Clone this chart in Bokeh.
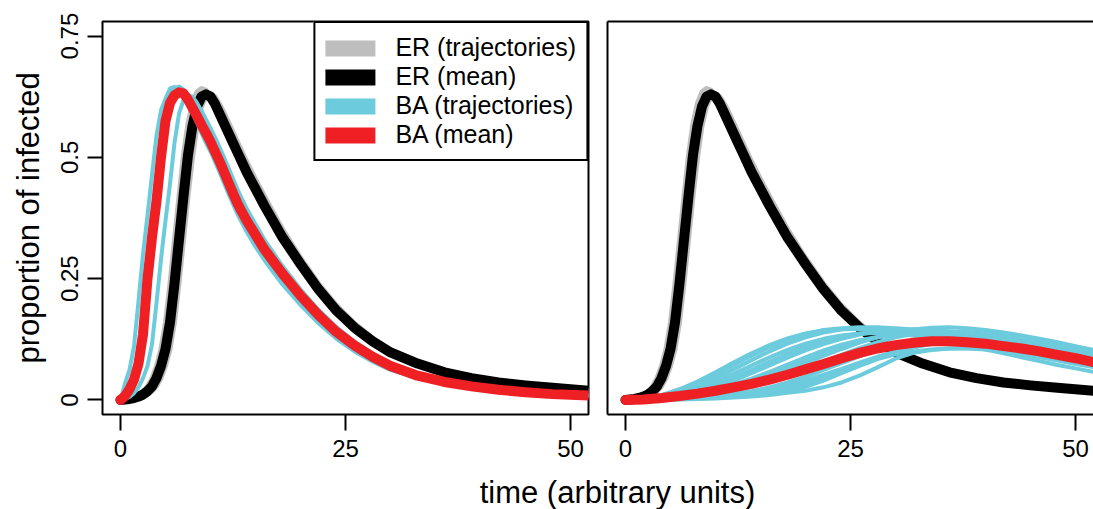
from bokeh.plotting import figure
from bokeh.models import FixedTicker, LinearAxis, Legend, LegendItem, Label, Range1d
from bokeh.layouts import row, column
from bokeh.embed import file_html
from bokeh.resources import INLINE

# ---------------- data ----------------
T_L = [0, 0.5, 1, 1.5, 2, 2.5, 3, 3.5, 4, 4.5, 5, 5.5, 6, 6.5, 7, 7.5, 8, 8.5, 9, 9.5,
       10, 10.5, 11, 11.5, 12, 12.5, 13, 13.5, 14, 15, 16, 18, 20, 22, 24, 26, 28, 30,
       33, 36, 39, 42, 45, 48, 52]

ER_MEAN = [0, 0.001, 0.002, 0.004, 0.007, 0.011, 0.018, 0.028, 0.045, 0.07,
           0.105, 0.16, 0.24, 0.33, 0.42, 0.505, 0.565, 0.605, 0.625, 0.63,
           0.625, 0.61, 0.59, 0.57, 0.55, 0.53, 0.51, 0.49, 0.47, 0.435, 0.40,
           0.335, 0.28, 0.228, 0.184, 0.149, 0.121, 0.098,
           0.075, 0.057, 0.045, 0.036, 0.030, 0.025, 0.019]

ER_TRAJ_A = [0, 0.002, 0.004, 0.007, 0.011, 0.018, 0.028, 0.045, 0.07, 0.105,
             0.16, 0.24, 0.33, 0.42, 0.505, 0.57, 0.612, 0.635, 0.642, 0.638,
             0.626, 0.61, 0.592, 0.572, 0.552, 0.532, 0.512, 0.492, 0.472, 0.436, 0.40,
             0.334, 0.277, 0.224, 0.18, 0.145, 0.117, 0.095,
             0.072, 0.055, 0.043, 0.034, 0.028, 0.023, 0.018]
ER_TRAJ_B = [0, 0.0, 0.001, 0.002, 0.004, 0.007, 0.011, 0.018, 0.028, 0.045,
             0.07, 0.105, 0.16, 0.24, 0.33, 0.42, 0.50, 0.565, 0.605, 0.625,
             0.632, 0.625, 0.61, 0.592, 0.572, 0.552, 0.532, 0.512, 0.492, 0.455, 0.42,
             0.352, 0.293, 0.24, 0.195, 0.158, 0.128, 0.104,
             0.08, 0.06, 0.047, 0.038, 0.031, 0.026, 0.02]

BA_MEAN_L = [0, 0.008, 0.022, 0.042, 0.075, 0.135, 0.25, 0.335, 0.41, 0.50,
             0.575, 0.612, 0.628, 0.634, 0.632, 0.619, 0.602, 0.585, 0.567, 0.55,
             0.532, 0.512, 0.492, 0.47, 0.448, 0.426, 0.405, 0.387, 0.37, 0.34, 0.31,
             0.26, 0.215, 0.175, 0.14, 0.112, 0.089, 0.07,
             0.05, 0.037, 0.028, 0.021, 0.016, 0.012, 0.009]

BA_TRAJ_L_A = [0, 0.034, 0.062, 0.111, 0.204, 0.301, 0.38, 0.464, 0.545, 0.597,
               0.621, 0.642, 0.645, 0.64, 0.628, 0.612, 0.592, 0.572, 0.55, 0.53,
               0.512, 0.491, 0.47, 0.447, 0.425, 0.404, 0.383, 0.365, 0.347, 0.316, 0.288,
               0.238, 0.196, 0.158, 0.126, 0.1, 0.079, 0.062,
               0.045, 0.033, 0.025, 0.019, 0.014, 0.011, 0.008]
BA_TRAJ_L_B = [0, 0.002, 0.006, 0.014, 0.026, 0.045, 0.07, 0.115, 0.2, 0.29,
               0.37, 0.445, 0.53, 0.59, 0.618, 0.628, 0.625, 0.612, 0.596, 0.578,
               0.56, 0.541, 0.521, 0.5, 0.478, 0.456, 0.434, 0.414, 0.395, 0.362, 0.33,
               0.276, 0.228, 0.186, 0.15, 0.12, 0.096, 0.075,
               0.054, 0.04, 0.03, 0.022, 0.017, 0.013, 0.01]
BA_TRAJ_L_C = [0, 0.012, 0.03, 0.055, 0.1, 0.185, 0.295, 0.375, 0.455, 0.54,
               0.6, 0.63, 0.642, 0.646, 0.64, 0.624, 0.604, 0.585, 0.566, 0.548,
               0.529, 0.509, 0.488, 0.466, 0.444, 0.422, 0.401, 0.383, 0.366, 0.335, 0.305,
               0.255, 0.21, 0.171, 0.137, 0.109, 0.087, 0.068,
               0.049, 0.036, 0.027, 0.02, 0.015, 0.011, 0.008]

T_R = [0, 2, 4, 6, 8, 10, 12, 14, 16, 18, 20, 22, 24, 26, 28, 30, 32, 34, 36, 38,
       40, 42, 44, 46, 48, 50, 52]

BA_MEAN_R = [0, 0.001, 0.004, 0.008, 0.013, 0.019, 0.026, 0.033, 0.042, 0.052,
             0.063, 0.074, 0.086, 0.097, 0.106, 0.113, 0.118, 0.121, 0.121, 0.119,
             0.116, 0.111, 0.106, 0.100, 0.093, 0.086, 0.078]

BA_TRAJ_R_1 = [0, 0.003, 0.010, 0.022, 0.038, 0.057, 0.077, 0.096, 0.113, 0.127,
               0.137, 0.143, 0.146, 0.146, 0.144, 0.140, 0.134, 0.127, 0.120, 0.112,
               0.104, 0.096, 0.088, 0.080, 0.072, 0.065, 0.058]
BA_TRAJ_R_2 = [0, 0.002, 0.007, 0.016, 0.029, 0.045, 0.063, 0.082, 0.100, 0.116,
               0.129, 0.139, 0.145, 0.148, 0.148, 0.146, 0.142, 0.137, 0.131, 0.124,
               0.117, 0.110, 0.102, 0.095, 0.088, 0.081, 0.074]
BA_TRAJ_R_3 = [0, 0.002, 0.005, 0.011, 0.020, 0.032, 0.046, 0.062, 0.079, 0.095,
               0.109, 0.121, 0.131, 0.137, 0.140, 0.141, 0.140, 0.137, 0.133, 0.128,
               0.122, 0.116, 0.110, 0.103, 0.097, 0.090, 0.084]
BA_TRAJ_R_4 = [0, 0.001, 0.004, 0.008, 0.014, 0.022, 0.032, 0.044, 0.058, 0.073,
               0.088, 0.102, 0.114, 0.123, 0.130, 0.134, 0.136, 0.135, 0.133, 0.130,
               0.126, 0.121, 0.116, 0.111, 0.105, 0.099, 0.093]
BA_TRAJ_R_5 = [0, 0.001, 0.003, 0.006, 0.011, 0.017, 0.025, 0.035, 0.047, 0.061,
               0.076, 0.091, 0.105, 0.118, 0.129, 0.138, 0.145, 0.149, 0.150, 0.148,
               0.144, 0.139, 0.133, 0.126, 0.119, 0.111, 0.103]
BA_TRAJ_R_6 = [0, 0.001, 0.003, 0.005, 0.009, 0.014, 0.020, 0.028, 0.037, 0.048,
               0.060, 0.073, 0.086, 0.098, 0.108, 0.116, 0.122, 0.125, 0.125, 0.123,
               0.120, 0.116, 0.111, 0.105, 0.099, 0.093, 0.087]
BA_TRAJ_R_7 = [0, 0.001, 0.002, 0.003, 0.005, 0.008, 0.012, 0.017, 0.023, 0.031,
               0.041, 0.052, 0.064, 0.077, 0.089, 0.100, 0.109, 0.115, 0.119, 0.120,
               0.119, 0.116, 0.112, 0.107, 0.101, 0.095, 0.089]
BA_TRAJ_R_8 = [0, 0.000, 0.001, 0.002, 0.003, 0.005, 0.007, 0.010, 0.014, 0.019,
               0.027, 0.040, 0.055, 0.070, 0.084, 0.094, 0.100, 0.104, 0.106, 0.106,
               0.104, 0.101, 0.097, 0.092, 0.087, 0.082, 0.077]
BA_TRAJ_R_9 = [0, 0.001, 0.003, 0.007, 0.012, 0.019, 0.028, 0.039, 0.052, 0.066,
               0.081, 0.096, 0.109, 0.120, 0.129, 0.135, 0.139, 0.140, 0.139, 0.136,
               0.132, 0.127, 0.121, 0.115, 0.109, 0.102, 0.096]
BA_TRAJ_R_10 = [0, 0.000, 0.001, 0.003, 0.005, 0.008, 0.012, 0.018, 0.026, 0.036,
                0.048, 0.062, 0.076, 0.090, 0.103, 0.114, 0.122, 0.127, 0.130, 0.131,
                0.130, 0.127, 0.123, 0.118, 0.112, 0.106, 0.100]
BA_TRAJ_R_11 = [0, 0.000, 0.001, 0.001, 0.002, 0.003, 0.005, 0.007, 0.010, 0.015,
                0.019, 0.026, 0.036, 0.050, 0.067, 0.085, 0.097, 0.103, 0.106, 0.107,
                0.106, 0.103, 0.100, 0.096, 0.091, 0.086, 0.081]
BA_TRAJ_R_12 = [0, 0.002, 0.008, 0.019, 0.034, 0.052, 0.072, 0.091, 0.109, 0.124,
                0.136, 0.144, 0.148, 0.150, 0.150, 0.148, 0.145, 0.140, 0.135, 0.129,
                0.123, 0.116, 0.109, 0.102, 0.095, 0.088, 0.082]
BA_TRAJ_R_13 = [0, 0.001, 0.004, 0.009, 0.017, 0.027, 0.040, 0.055, 0.071, 0.087,
                0.102, 0.115, 0.126, 0.135, 0.141, 0.144, 0.145, 0.144, 0.141, 0.137,
                0.132, 0.126, 0.120, 0.113, 0.106, 0.099, 0.092]
BA_TRAJ_R_14 = [0, 0.001, 0.002, 0.004, 0.008, 0.013, 0.019, 0.027, 0.037, 0.049,
                0.063, 0.078, 0.093, 0.107, 0.119, 0.129, 0.136, 0.140, 0.141, 0.140,
                0.137, 0.133, 0.128, 0.122, 0.116, 0.109, 0.102]
BA_TRAJ_R_15 = [0, 0.002, 0.006, 0.013, 0.024, 0.038, 0.054, 0.071, 0.088, 0.103,
                0.116, 0.126, 0.133, 0.137, 0.138, 0.136, 0.133, 0.128, 0.122, 0.116,
                0.109, 0.102, 0.095, 0.088, 0.081, 0.074, 0.068]
BA_TRAJ_R_16 = [0, 0.000, 0.001, 0.002, 0.004, 0.006, 0.009, 0.013, 0.018, 0.025,
                0.034, 0.045, 0.058, 0.072, 0.086, 0.098, 0.108, 0.116, 0.121, 0.124,
                0.124, 0.122, 0.119, 0.115, 0.110, 0.105, 0.099]

X_TICKS = [0, 25, 50]
Y_TICKS = [0, 0.25, 0.5, 0.75]
Y_TICK_LABELS = ["0", "0.25", "0.5", "0.75"]
LEGEND_LABELS = ["ER (trajectories)", "ER (mean)", "BA (trajectories)", "BA (mean)"]
X_TITLE = "time (arbitrary units)"
Y_TITLE = "proportion of infected"

# ---------------- style ----------------
GRAY = "#BEBEBE"
BLACK = "#000000"
CYAN = "#6CCBDC"
RED = "#EE2024"
FONT = "Liberation Sans"
NAN = float("nan")


def base_fig(width, left, right):
    p = figure(width=width, height=469, x_range=Range1d(-2, 52), y_range=Range1d(-0.03, 0.78),
               output_backend="svg", toolbar_location=None,
               min_border_left=left, min_border_right=right, min_border_top=21, min_border_bottom=55)
    p.xgrid.visible = False
    p.ygrid.visible = False
    p.background_fill_color = "white"
    p.border_fill_color = "white"
    xa = p.xaxis[0]
    xa.ticker = FixedTicker(ticks=X_TICKS)
    xa.major_tick_out = 16
    xa.major_tick_in = 0
    xa.minor_tick_line_color = None
    xa.major_tick_line_width = 2
    xa.major_tick_line_color = BLACK
    xa.major_label_text_font = FONT
    xa.major_label_text_font_size = "24px"
    xa.major_label_text_color = BLACK
    xa.major_label_standoff = 9
    return p


def line(p, x, y, color, w):
    return p.line(x, y, line_color=color, line_width=w, line_join="round", line_cap="round")


# ---------------- left panel ----------------
p1 = base_fig(598, 102, 10)
p1.outline_line_color = BLACK
p1.outline_line_width = 2
p1.outline_line_alpha = 1
p1.xaxis.axis_line_color = None
ya = p1.yaxis[0]
ya.ticker = FixedTicker(ticks=Y_TICKS)
ya.major_label_overrides = {t: s for t, s in zip(Y_TICKS, Y_TICK_LABELS)}
ya.major_label_orientation = "vertical"
ya.axis_line_color = None
ya.major_tick_out = 15
ya.major_tick_in = 0
ya.minor_tick_line_color = None
ya.major_tick_line_width = 2
ya.major_label_text_font = FONT
ya.major_label_text_font_size = "24px"
ya.major_label_text_color = BLACK
ya.major_label_standoff = 9
ya.axis_label = Y_TITLE
ya.axis_label_text_font = FONT
ya.axis_label_text_font_size = "31px"
ya.axis_label_text_font_style = "normal"
ya.axis_label_text_color = BLACK
ya.axis_label_standoff = 13

for tr in (ER_TRAJ_A, ER_TRAJ_B):
    line(p1, T_L, tr, GRAY, 5)
line(p1, T_L, ER_MEAN, BLACK, 10)
for tr in (BA_TRAJ_L_A, BA_TRAJ_L_B, BA_TRAJ_L_C):
    line(p1, T_L, tr, CYAN, 4)
line(p1, T_L, BA_MEAN_L, RED, 10)

leg_r = [p1.line([NAN], [NAN], line_color=c, line_width=16, line_cap="round", line_join="round")
         for c in (GRAY, BLACK, CYAN, RED)]
legend = Legend(items=[LegendItem(label=lab, renderers=[r]) for lab, r in zip(LEGEND_LABELS, leg_r)],
                location="top_right", margin=0, padding=10, spacing=0,
                glyph_width=50, glyph_height=26, label_height=26, label_standoff=20,
                label_text_font=FONT, label_text_font_size="25px", label_text_color=BLACK,
                label_text_line_height=0.9,
                border_line_color=BLACK, border_line_width=2, border_line_alpha=1,
                background_fill_color="white", background_fill_alpha=1)
p1.add_layout(legend)

# ---------------- right panel ----------------
p2 = base_fig(495, 9, 0)
p2.outline_line_color = None
p2.xaxis.axis_line_color = BLACK
p2.xaxis.axis_line_width = 2
ya2 = p2.yaxis[0]
ya2.ticker = FixedTicker(ticks=[])
ya2.axis_line_color = BLACK
ya2.axis_line_width = 2
ya2.major_tick_out = 0
ya2.major_tick_in = 0
ya2.minor_tick_line_color = None
ya2.major_label_standoff = 0
top = LinearAxis(ticker=FixedTicker(ticks=[]), axis_line_color=BLACK, axis_line_width=2,
                 major_tick_out=0, major_tick_in=0, minor_tick_line_color=None, major_label_standoff=0)
p2.add_layout(top, "above")

for tr in (ER_TRAJ_A, ER_TRAJ_B):
    line(p2, T_L, tr, GRAY, 5)
line(p2, T_L, ER_MEAN, BLACK, 10)
for tr in (BA_TRAJ_R_1, BA_TRAJ_R_2, BA_TRAJ_R_3, BA_TRAJ_R_4, BA_TRAJ_R_5,
           BA_TRAJ_R_6, BA_TRAJ_R_7, BA_TRAJ_R_8, BA_TRAJ_R_9, BA_TRAJ_R_10,
           BA_TRAJ_R_11, BA_TRAJ_R_12, BA_TRAJ_R_13, BA_TRAJ_R_14, BA_TRAJ_R_15,
           BA_TRAJ_R_16):
    line(p2, T_R, tr, CYAN, 4)
line(p2, T_R, BA_MEAN_R, RED, 10)

# ---------------- shared x title ----------------
p3 = figure(width=1093, height=40, x_range=Range1d(0, 1093), y_range=Range1d(0, 40),
            output_backend="svg", toolbar_location=None, min_border=0,
            x_axis_location=None, y_axis_location=None)
p3.xgrid.visible = False
p3.ygrid.visible = False
p3.outline_line_color = None
p3.add_layout(Label(x=617, y=17, text=X_TITLE, text_align="center", text_baseline="middle",
                    text_font=FONT, text_font_size="31px", text_color=BLACK))

layout = column(row(p1, p2), p3)
open("out.html", "w").write(file_html(layout, INLINE))
